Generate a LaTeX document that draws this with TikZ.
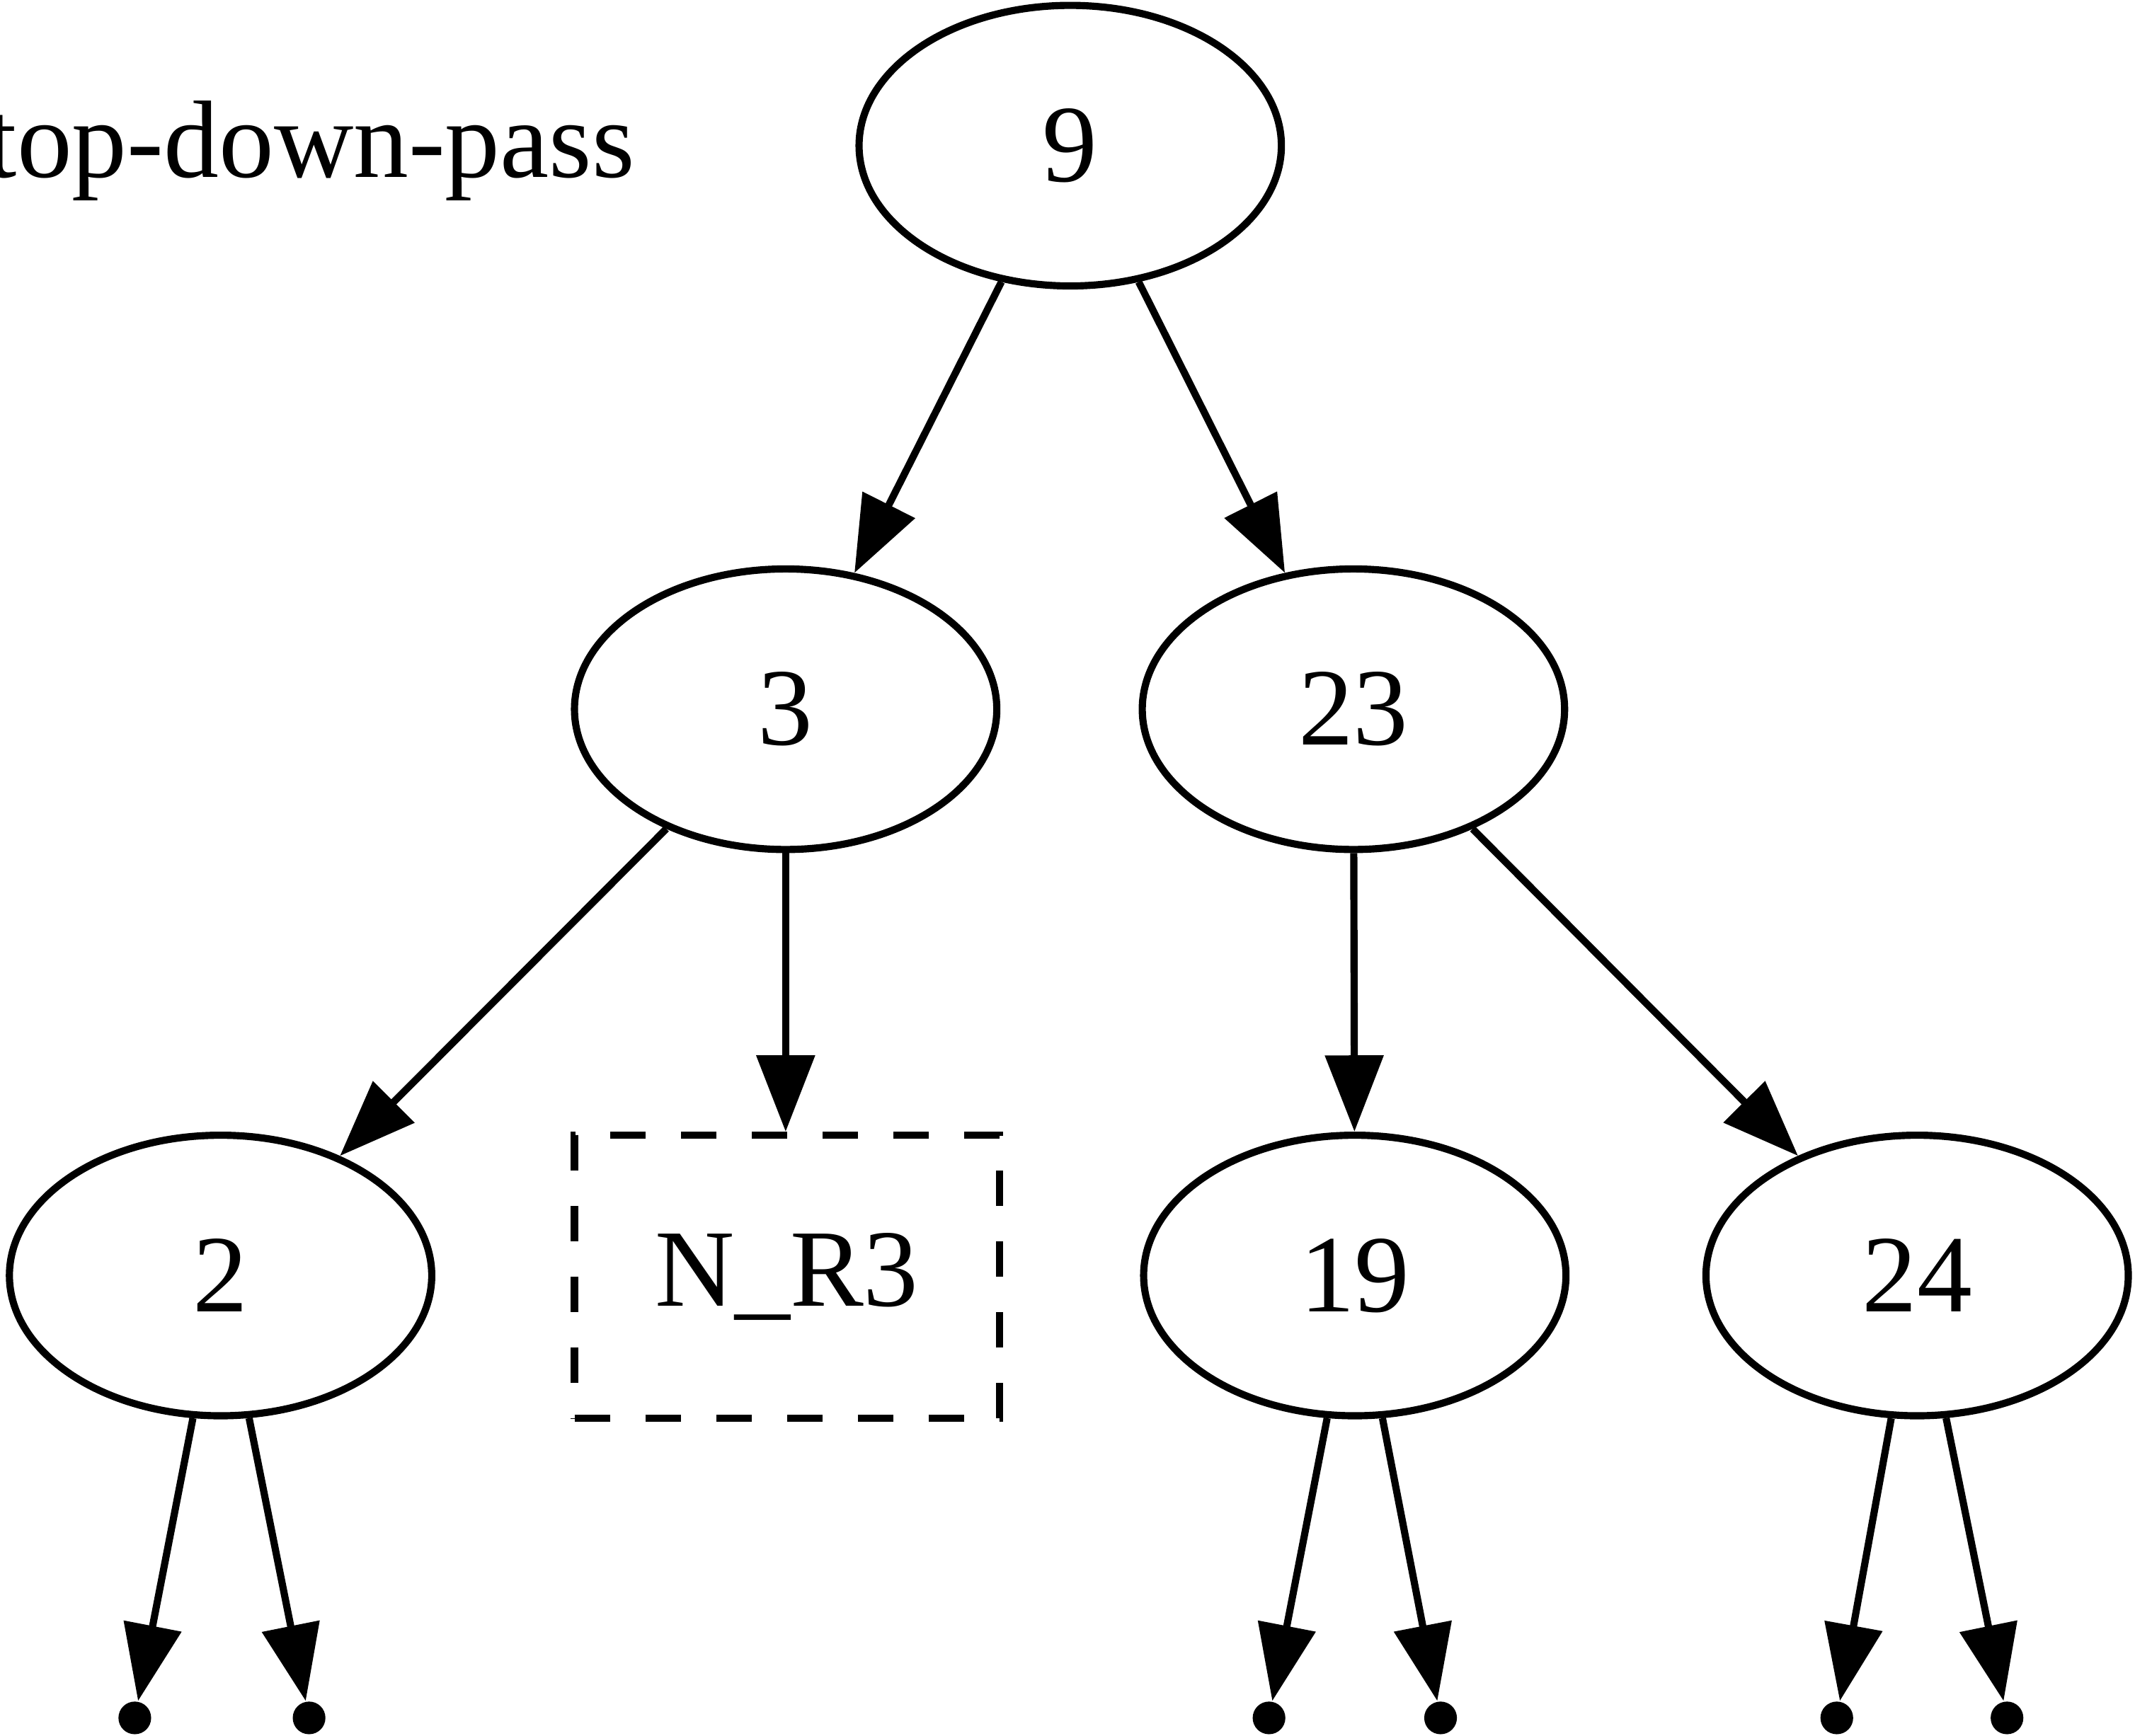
\documentclass[tikz,border=0pt]{standalone}
\usepackage{fontspec}
\setmainfont{Liberation Serif}
\usetikzlibrary{arrows.meta, shapes.geometric}

\begin{document}
\begin{tikzpicture}[x=0.01cm, y=-0.01cm, >={Triangle[length=0.56cm, width=0.42cm]},
    vertex/.style={ellipse, draw, line width=1.5pt, minimum width=3.1cm, minimum height=2.06cm, inner sep=0pt, font=\fontsize{23}{27}\selectfont},
    nullbox/.style={rectangle, draw, line width=1.5pt, dash pattern=on 0.26cm off 0.26cm, minimum width=3.12cm, minimum height=2.08cm, inner sep=0pt, font=\fontsize{23}{27}\selectfont},
    leaf/.style={circle, fill, inner sep=0pt, minimum size=0.24cm},
    edge/.style={->, line width=1.5pt}]
    \useasboundingbox (0,0) rectangle (1568,1275);

    % Titel
    \node[anchor=base east, inner sep=0pt, font=\fontsize{23}{27}\selectfont] (title) at (467,130) {top-down-pass};

    % Knoten
    \node[vertex] (n9) at (786,107) {9};
    \node[vertex] (n3) at (577,521) {3};
    \node[vertex] (n23) at (994,521) {23};
    \node[vertex] (n2) at (162,937) {2};
    \node[nullbox] (nr3) at (578,938) {N\_R3};
    \node[vertex] (n19) at (995,937) {19};
    \node[vertex] (n24) at (1408,937) {24};

    % Blaetter
    \node[leaf] (l1) at (99,1262) {};
    \node[leaf] (l2) at (227,1262) {};
    \node[leaf] (l3) at (932,1262) {};
    \node[leaf] (l4) at (1058,1262) {};
    \node[leaf] (l5) at (1349,1262) {};
    \node[leaf] (l6) at (1474,1262) {};

    % Kanten
    \draw[edge] (n9) -- (n3);
    \draw[edge] (n9) -- (n23);
    \draw[edge] (n3) -- (n2);
    \draw[edge] (n3.south) -- (n3.south |- nr3.north);
    \draw[edge] (n23) -- (n19);
    \draw[edge] (n23) -- (n24);
    \draw[edge] (n2) -- (l1);
    \draw[edge] (n2) -- (l2);
    \draw[edge] (n19) -- (l3);
    \draw[edge] (n19) -- (l4);
    \draw[edge] (n24) -- (l5);
    \draw[edge] (n24) -- (l6);
\end{tikzpicture}
\end{document}
